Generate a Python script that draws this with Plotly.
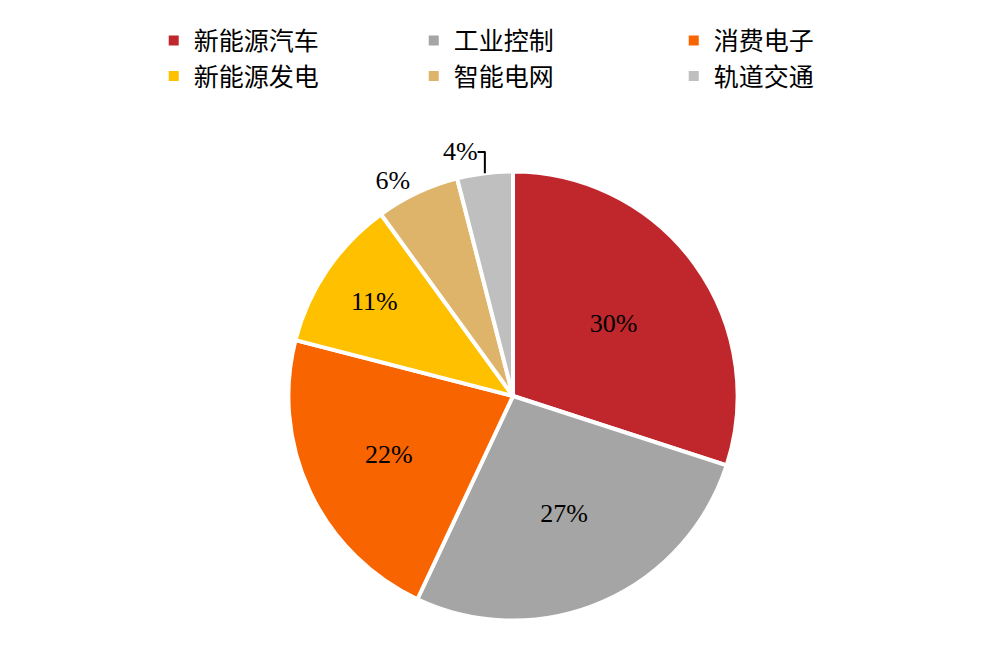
import plotly.graph_objects as go

labels = ["新能源汽车", "工业控制", "消费电子", "新能源发电", "智能电网", "轨道交通"]
values = [30, 27, 22, 11, 6, 4]
colors = ["#C0272D", "#A5A5A5", "#F86400", "#FFC000", "#DEB46A", "#BFBFBF"]

fig = go.Figure(go.Pie(
    labels=labels, values=values, sort=False, direction="clockwise", rotation=0,
    marker=dict(colors=colors, line=dict(color="white", width=4)),
    texttemplate="%{percent:.0%}", textposition=["inside"]*4 + ["outside"]*2,
    insidetextorientation="horizontal",
    textfont=dict(family="Liberation Serif", size=26, color="black"),
    domain=dict(x=[0.279, 0.726], y=[0.058, 0.750]),
    hoverinfo="label+percent",
))
fig.update_layout(
    width=1005, height=651, margin=dict(l=0, r=0, t=0, b=0),
    paper_bgcolor="white", plot_bgcolor="white",
    legend=dict(orientation="h", x=0.145, y=0.985, xanchor="left", yanchor="top",
                entrywidth=215, entrywidthmode="pixels",
                font=dict(family="Noto Sans CJK SC", size=25, color="black"),
                itemsizing="constant", tracegroupgap=0),
    showlegend=True,
)
fig.write_html("out.html")
